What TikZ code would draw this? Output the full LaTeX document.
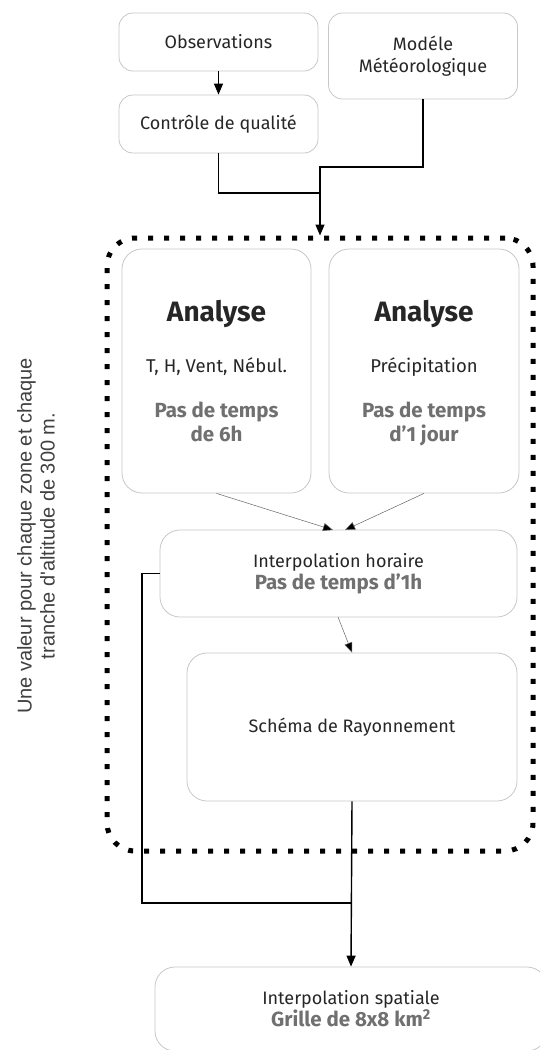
\documentclass[tikz,border=0pt]{standalone}
\usepackage{fontspec}
\setmainfont{Fira Sans}
\newfontfamily\lsans{Liberation Sans}
\usetikzlibrary{arrows.meta}
\definecolor{boxgray}{HTML}{C8C8C8}
\definecolor{txtgray}{HTML}{707070}
\newcommand{\grt}[1]{\textcolor{txtgray}{\fontsize{20.5}{22}\selectfont\bfseries #1}}
\begin{document}
\begin{tikzpicture}[x=1pt,y=-1pt,
  box/.style={draw=boxgray, line width=0.8pt, rounded corners=14pt, inner sep=0pt, align=center, font=\fontsize{18}{22}\selectfont, text=black!85},
  bigbox/.style={box, rounded corners=20pt},
  lbl/.style={anchor=base, inner sep=0pt, font=\fontsize{18.5}{22}\selectfont, text=black!85},
  titl/.style={lbl, font=\fontsize{28}{30}\selectfont\bfseries},
  grl/.style={lbl, text=txtgray, font=\fontsize{20.5}{22}\selectfont\bfseries},
  flow/.style={line width=1.4pt, -{Triangle[length=11pt,width=9pt]}},
  plain/.style={line width=1.4pt},
  thinarr/.style={line width=0.5pt, draw=black!60, -{Triangle[length=10pt,width=8pt,fill=black]}},
  dotframe/.style={draw, line width=5pt, dash pattern=on 5pt off 11pt, rounded corners=28pt}
]
\useasboundingbox (0,0) rectangle (539,1050);
\fill[white] (0,0) rectangle (539,1050);

\node[dotframe, minimum width=426pt, minimum height=613pt, inner sep=0pt] (fr) at (320,544.5) {};

\node[box, minimum width=199pt, minimum height=58pt] (obs) at (218.5,42) {Observations};
\node[box, minimum width=189pt, minimum height=86pt] (mod) at (423,56) {Modéle\\Météorologique};
\node[box, minimum width=199pt, minimum height=58pt] (ctl) at (218.5,124) {Contrôle de qualité};

\node[bigbox, minimum width=189pt, minimum height=244pt] (anl) at (216.5,371) {};
\node[titl] (anlt) at (216.5,321) {Analyse};
\node[lbl] (anls) at (216.5,372) {T, H, Vent, Nébul.};
\node[grl] (anlp) at (216.5,417) {Pas de temps};
\node[grl] (anlq) at (216.5,441) {de 6h};

\node[bigbox, minimum width=190pt, minimum height=244pt] (anr) at (424,371) {};
\node[titl] (anrt) at (424,321) {Analyse};
\node[lbl] (anrs) at (424,372) {Précipitation};
\node[grl] (anrp) at (424,417) {Pas de temps};
\node[grl] (anrq) at (424,441) {d'1 jour};

\node[bigbox, minimum width=357pt, minimum height=87pt] (ih) at (338.5,573.5)
  {Interpolation horaire\\\grt{Pas de temps d'1h}};
\node[bigbox, minimum width=330pt, minimum height=148pt] (sch) at (352,727) {Schéma de Rayonnement};
\node[bigbox, minimum width=392pt, minimum height=84pt] (isp) at (351,1009)
  {Interpolation spatiale\\\grt{Grille de 8x8 km\textsuperscript{2}}};

\node[text=black!75, rotate=90, align=center, font=\lsans\fontsize{20}{23}\selectfont] (note) at (36,536)
  {Une valeur pour chaque zone et chaque\\tranche d'altitude de 300 m.};

\coordinate (j1) at (320,193);
\draw[flow] (obs) -- (ctl);
\draw[plain] (ctl.south) |- (j1);
\draw[plain] (mod.south) |- (320,167) -- (j1);
\draw[flow] (j1) -- (fr.north);

\draw[thinarr] (anl.south) -- (333,530);
\draw[thinarr] (anr.south) -- (345,530);
\draw[thinarr] (338,617) -- (sch.north);

\coordinate (j2) at (352,903);
\draw[plain] (ih.west) -- (142,573.5) |- (j2);
\draw[flow] (sch.south) -- (isp.north);
\end{tikzpicture}
\end{document}
